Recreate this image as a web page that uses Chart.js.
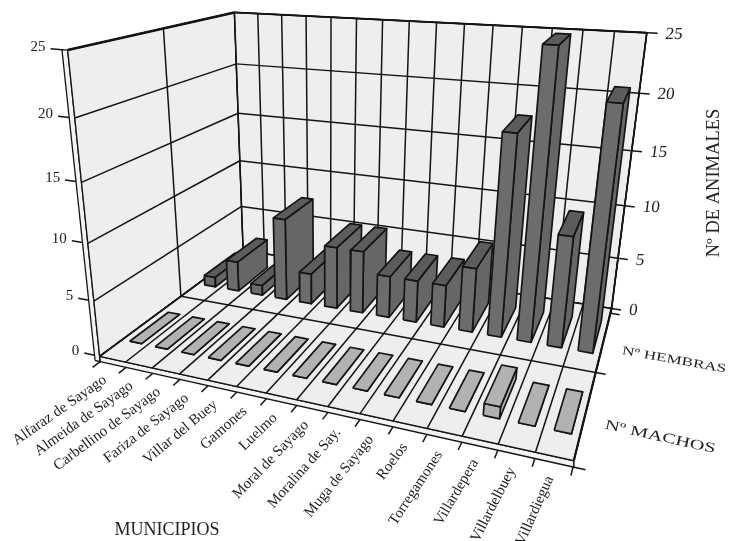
<!DOCTYPE html>
<html>
<head>
<meta charset="utf-8">
<style>
  html, body { margin: 0; background: #fff; }
  canvas { display: block; filter: blur(0.35px); }
</style>
<script src="https://cdn.jsdelivr.net/npm/chart.js@4"></script>
</head>
<body>
<canvas id="chart" width="730" height="541"></canvas>
<script>
const categories = ['Alfaraz de Sayago', 'Almeida de Sayago', 'Carbellino de Sayago', 'Fariza de Sayago',
  'Villar del Buey', 'Gamones', 'Luelmo', 'Moral de Sayago', 'Moralina de Say.', 'Muga de Sayago',
  'Roelos', 'Torregamones', 'Villardepera', 'Villardelbuey', 'Villardiegua'];
const hembras = [1, 3, 1, 8, 3, 6, 6, 4, 4, 4, 6, 18, 25, 10, 21];
const machos = [0, 0, 0, 0, 0, 0, 0, 0, 0, 0, 0, 0, 1, 0, 0];
const valueTicks = [0, 5, 10, 15, 20, 25];

// corners of the box: [category, depth, value, px, py]
const anchors = [
  [0, 0, 0, 100, 357], [0, 2, 0, 243, 250], [15, 2, 0, 612, 308], [15, 0, 0, 573, 461],
  [0, 0, 25, 68, 49], [0, 2, 25, 234, 13], [15, 2, 25, 647, 33]
];

function solveCamera() {
  // least squares for a 3x4 projection with the last term fixed to 1
  const n = 11;
  const ata = Array.from({ length: n }, () => new Array(n + 1).fill(0));
  const addRow = (row, rhs) => {
    for (let i = 0; i < n; i++) {
      for (let j = 0; j < n; j++) ata[i][j] += row[i] * row[j];
      ata[i][n] += row[i] * rhs;
    }
  };
  anchors.forEach(([u, v, w, x, y]) => {
    addRow([u, v, w, 1, 0, 0, 0, 0, -x * u, -x * v, -x * w], x);
    addRow([0, 0, 0, 0, u, v, w, 1, -y * u, -y * v, -y * w], y);
  });
  for (let c = 0; c < n; c++) {
    let p = c;
    for (let r = c + 1; r < n; r++) if (Math.abs(ata[r][c]) > Math.abs(ata[p][c])) p = r;
    [ata[c], ata[p]] = [ata[p], ata[c]];
    for (let r = 0; r < n; r++) {
      if (r === c) continue;
      const f = ata[r][c] / ata[c][c];
      for (let k = c; k <= n; k++) ata[r][k] -= f * ata[c][k];
    }
  }
  return ata.map((row, i) => row[n] / row[i]);
}

const cam = solveCamera();
function project(u, v, w) {
  const d = cam[8] * u + cam[9] * v + cam[10] * w + 1;
  return {
    x: (cam[0] * u + cam[1] * v + cam[2] * w + cam[3]) / d,
    y: (cam[4] * u + cam[5] * v + cam[6] * w + cam[7]) / d
  };
}

const INK = '#141414';
const datasets = [];
function shape(points, fill, stroke, width) {
  const pts = points.map(p => project(p[0], p[1], p[2]));
  pts.push(pts[0]);
  datasets.push({
    data: pts, showLine: true, tension: 0, pointRadius: 0,
    fill: 'shape', backgroundColor: fill,
    borderColor: stroke || fill, borderWidth: width === undefined ? 1.7 : width, borderJoinStyle: 'round'
  });
}
function line(a, b, width) {
  datasets.push({
    data: [project(...a), project(...b)], showLine: true, tension: 0, pointRadius: 0, fill: false,
    borderColor: INK, borderWidth: width || 1.5
  });
}

const N = categories.length;
const TOP = valueTicks[valueTicks.length - 1];
const WALL = '#eeeeee';

// walls, floor and the slab edges
shape([[-0.2, 0, -0.5], [0, 0, -0.5], [0, 0, TOP], [-0.2, 0, TOP]], '#f3f3f3', INK, 1.3);
shape([[0, 0, -0.5], [N, 0, -0.5], [N, 0, 0], [0, 0, 0]], '#f3f3f3', INK, 1.5);
shape([[0, 0, 0], [0, 2, 0], [0, 2, TOP], [0, 0, TOP]], WALL, INK, 1.3);
shape([[0, 2, 0], [N, 2, 0], [N, 2, TOP], [0, 2, TOP]], WALL, INK, 1.3);
shape([[0, 0, 0], [N, 0, 0], [N, 2, 0], [0, 2, 0]], WALL, INK, 1.3);

valueTicks.forEach(t => {
  line([0, 0, t], [0, 2, t]);
  line([0, 2, t], [N, 2, t]);
  line([-0.2, 0, t], [-0.6, 0, t]);
  line([N, 2, t], [N + 0.33, 2, t]);
});
for (let i = 0; i <= N; i++) {
  line([i, 2, 0], [i, 2, TOP]);
  line([i, 0, 0], [i, 2, 0]);
  line([i, 0, -0.5], [i, -0.08, -0.5]);
}
line([0, 1, 0], [0, 1, TOP]);
line([0, 1, 0], [N, 1, 0]);
line([N, 1, 0], [N + 0.3, 1, 0]);
line([N, 2, -0.5], [N + 0.3, 2, -0.5]);
line([N, 0, -0.5], [N + 0.32, 0, -0.5]);
line([0, 0, TOP], [0, 2, TOP], 2.6);
line([0, 2, TOP], [N, 2, TOP], 1.9);
line([N, 0, 0], [N, 2, 0], 2.2);
line([N, 2, 0], [N, 2, TOP], 1.7);

function bar(i, v0, v1, value, front, side, top) {
  const a = i + 0.3, b = i + 0.77;
  shape([[b, v0, 0], [b, v1, 0], [b, v1, value], [b, v0, value]], side, INK);
  shape([[a, v0, 0], [b, v0, 0], [b, v0, value], [a, v0, value]], front, INK);
  shape([[a, v0, value], [b, v0, value], [b, v1, value], [a, v1, value]], top, INK);
}
hembras.forEach((value, i) => bar(i, 1.25, 1.75, value, '#6c6c6c', '#666666', '#5c5c5c'));
machos.forEach((value, i) => bar(i, 0.25, 0.73, value, '#b0b0b0', '#b0b0b0', '#b2b2b2'));

const textPlugin = {
  id: 'axisText',
  afterDraw(chart) {
    const ctx = chart.ctx;
    ctx.save();
    ctx.fillStyle = '#222';
    ctx.textBaseline = 'middle';
    const put = (text, x, y, angle, font, align, sx, skew) => {
      ctx.save();
      ctx.translate(x, y);
      ctx.rotate(angle * Math.PI / 180);
      ctx.transform(sx || 1, 0, skew || 0, 1, 0, 0);
      ctx.font = font;
      ctx.textAlign = align;
      ctx.fillText(text, 0, 0);
      ctx.restore();
    };
    const SERIF = '"Liberation Serif", serif';
    valueTicks.forEach(t => {
      const l = project(-0.6, 0, t);
      put(String(t), l.x - 5, l.y - 2, 0, '15px ' + SERIF, 'right');
      const r = project(N + 0.33, 2, t);
      put(String(t), r.x + 8, r.y + 1, 0, '17px ' + SERIF, 'left', 1, -0.12);
    });
    categories.forEach((name, i) => {
      const p = project(i + 0.5, 0, -0.5);
      const angle = 35 + 31 * Math.pow(i / (N - 1), 1.5);
      put(name, p.x - 8 + i * 0.3, p.y + 14, -angle, '15px ' + SERIF, 'right');
    });
    put('MUNICIPIOS', 167, 530, 0, '18px ' + SERIF, 'center');
    put('Nº DE ANIMALES', 714, 183, -90, '18.5px ' + SERIF, 'center');
    put('Nº HEMBRAS', 622, 351, 10, '12px ' + SERIF, 'left', 1.44);
    put('Nº MACHOS', 605, 425, 12.5, '14px ' + SERIF, 'left', 1.45);
    ctx.restore();
  }
};

new Chart(document.getElementById('chart'), {
  type: 'scatter',
  data: { datasets: datasets.slice().reverse() },
  plugins: [textPlugin],
  options: {
    responsive: false,
    animation: false,
    layout: { padding: 0 },
    plugins: { legend: { display: false }, tooltip: { enabled: false } },
    scales: {
      x: { type: 'linear', min: 0, max: 730, display: false },
      y: { type: 'linear', min: 0, max: 541, reverse: true, display: false }
    }
  }
});
</script>
</body>
</html>
